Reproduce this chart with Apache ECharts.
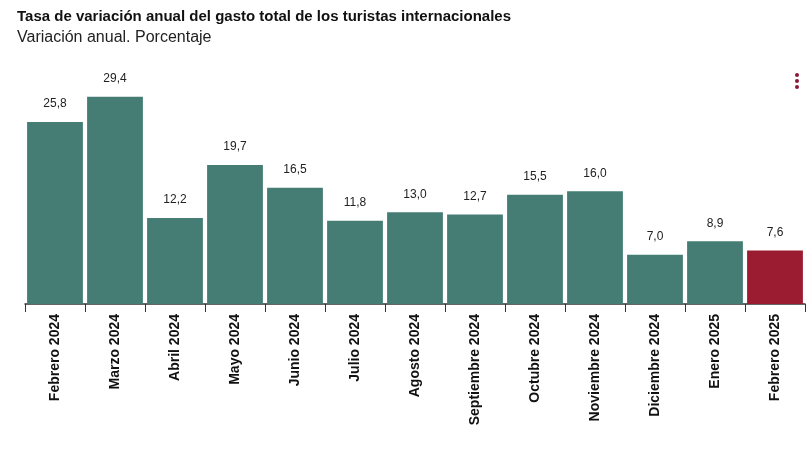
<!DOCTYPE html>
<html><head><meta charset="utf-8">
<script src="https://cdn.jsdelivr.net/npm/echarts@6/dist/echarts.min.js"></script>
<style>html,body{margin:0;padding:0;background:#fff}#main{width:807px;height:449px}</style>
</head><body><div id="main"></div>
<script>
// datos
var categorias = ['Febrero 2024','Marzo 2024','Abril 2024','Mayo 2024','Junio 2024','Julio 2024','Agosto 2024','Septiembre 2024','Octubre 2024','Noviembre 2024','Diciembre 2024','Enero 2025','Febrero 2025'];
var valores = [25.8, 29.4, 12.2, 19.7, 16.5, 11.8, 13.0, 12.7, 15.5, 16.0, 7.0, 8.9, 7.6];

var chart = echarts.init(document.getElementById('main'));
var option = {
	animation: false,
	title: {
		text: 'Tasa de variación anual del gasto total de los turistas internacionales',
		subtext: 'Variación anual. Porcentaje',
		left: 12, top: 4, itemGap: 6,
		textStyle: {fontFamily: 'Arial, Liberation Sans', fontSize: 15, fontWeight: 'bold', color: '#111'},
		subtextStyle: {fontFamily: 'Arial, Liberation Sans', fontSize: 16, color: '#222'}
	},
	grid: {left: 25, right: 2, top: 92.5, bottom: 145},
	xAxis: {
		type: 'category',
		data: categorias,
		axisLine: {lineStyle: {color: '#333', width: 1.5}},
		axisTick: {show: true, length: 8, lineStyle: {color: '#333'}},
		axisLabel: {rotate: 90, fontFamily: 'Arial, Liberation Sans', fontSize: 14, fontWeight: 'bold', color: '#111', margin: 10}
	},
	yAxis: {type: 'value', min: 0, max: 30, show: false},
	series: [{
		type: 'bar',
		barCategoryGap: '7%',
		data: valores.map(function (v, i) {
			return {value: v, itemStyle: {color: i === valores.length - 1 ? '#9b1b30' : '#457d74'}};
		}),
		label: {
			show: true, position: 'top', distance: 12,
			fontFamily: 'Arial, Liberation Sans', fontSize: 12, color: '#222',
			formatter: function (p) { return p.value.toFixed(1).replace('.', ','); }
		}
	}],
	graphic: [
		{type: 'circle', left: 795, top: 73, shape: {r: 2}, style: {fill: '#8a1a3a'}},
		{type: 'circle', left: 795, top: 79, shape: {r: 2}, style: {fill: '#8a1a3a'}},
		{type: 'circle', left: 795, top: 85, shape: {r: 2}, style: {fill: '#8a1a3a'}}
	]
};
chart.setOption(option);
</script>
</body></html>
